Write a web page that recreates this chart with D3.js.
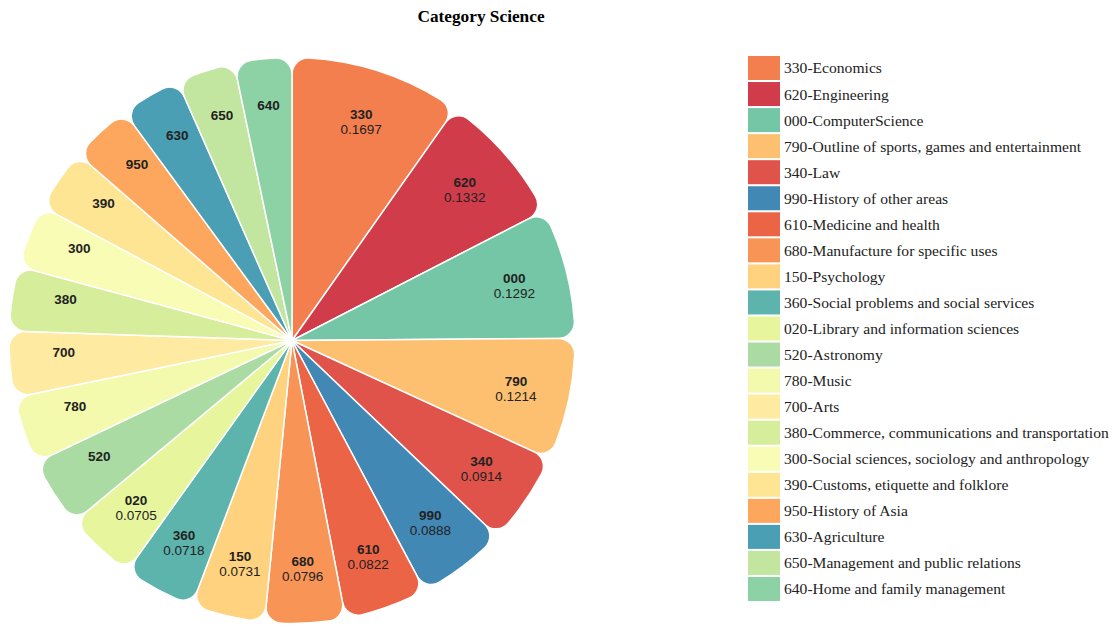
<!DOCTYPE html>
<html>
<head>
<meta charset="utf-8">
<script src="https://cdnjs.cloudflare.com/ajax/libs/d3/7.8.5/d3.min.js"></script>
<style>
  html, body { margin: 0; padding: 0; background: #fff; }
  svg { display: block; }
</style>
</head>
<body>
<svg id="chart" width="1118" height="628"></svg>
<script>
const title = "Category Science";
const codes = ["330","620","000","790","340","990","610","680","150","360","020","520","780","700","380","300","390","950","630","650","640"];
const names = ["Economics","Engineering","ComputerScience","Outline of sports, games and entertainment","Law","History of other areas","Medicine and health","Manufacture for specific uses","Psychology","Social problems and social services","Library and information sciences","Astronomy","Music","Arts","Commerce, communications and transportation","Social sciences, sociology and anthropology","Customs, etiquette and folklore","History of Asia","Agriculture","Management and public relations","Home and family management"];
const values = [0.1697,0.1332,0.1292,0.1214,0.0914,0.0888,0.0822,0.0796,0.0731,0.0718,0.0705,0.0690,0.0668,0.0655,0.0640,0.0628,0.0620,0.0612,0.0600,0.0580,0.0570];
const colors = ["#f47f4e","#d13c4b","#74c6a6","#fcc070","#e0534a","#4288b5","#ec6446","#f89456","#fed27e","#5db4ad","#e7f59d","#a9dba3","#f3faad","#feeaa0","#d6ee9b","#f8fcb4","#fee593","#fca65e","#4a9fb4","#c2e69f","#8dd2a4"];

const svg = d3.select("#chart");
const cx = 292, cy = 340.5, R = 283;

svg.append("text")
  .attr("x", 481).attr("y", 21.5)
  .attr("text-anchor", "middle")
  .style("font-family", "'Liberation Serif', 'Times New Roman', serif")
  .style("font-weight", "bold").style("font-size", "17.3px")
  .attr("fill", "#000")
  .text(title);

const data = codes.map((c, i) => ({code: c, name: names[i], value: values[i], color: colors[i]}));

const pie = d3.pie().sort(null).value(d => d.value);
const arc = d3.arc().innerRadius(0).outerRadius(R).cornerRadius(16);
const labelArc = d3.arc().innerRadius(229).outerRadius(229);

const g = svg.append("g").attr("transform", `translate(${cx},${cy})`);
const arcs = pie(data);

g.selectAll("path").data(arcs).join("path")
  .attr("d", arc)
  .attr("fill", d => d.data.color)
  .attr("stroke", "#fff").attr("stroke-width", 1.5);

const lab = g.selectAll("g.lab").data(arcs).join("g")
  .attr("class", "lab")
  .attr("transform", d => `translate(${labelArc.centroid(d)})`)
  .style("font-family", "'Liberation Sans', Arial, sans-serif")
  .style("font-size", "13.5px")
  .attr("fill", "#222");

lab.append("text").attr("text-anchor", "middle").attr("y", -7.5).attr("dy", "0.35em")
  .style("font-weight", "bold").text(d => d.data.code);
lab.filter(d => d.data.value >= 0.07).append("text")
  .attr("text-anchor", "middle").attr("y", 7.5).attr("dy", "0.35em")
  .text(d => d.data.value.toFixed(4));

const legend = svg.append("g").attr("transform", "translate(748,56)");
const row = legend.selectAll("g").data(data).join("g")
  .attr("transform", (d, i) => `translate(0,${i * 26.05})`);
row.append("rect").attr("width", 32).attr("height", 24).attr("fill", d => d.color);
row.append("text").attr("x", 36).attr("y", 12).attr("dy", "0.35em")
  .style("font-family", "'Liberation Serif', 'Times New Roman', serif")
  .style("font-size", "15.6px").attr("fill", "#222")
  .text(d => `${d.code}-${d.name}`);
</script>
</body>
</html>
